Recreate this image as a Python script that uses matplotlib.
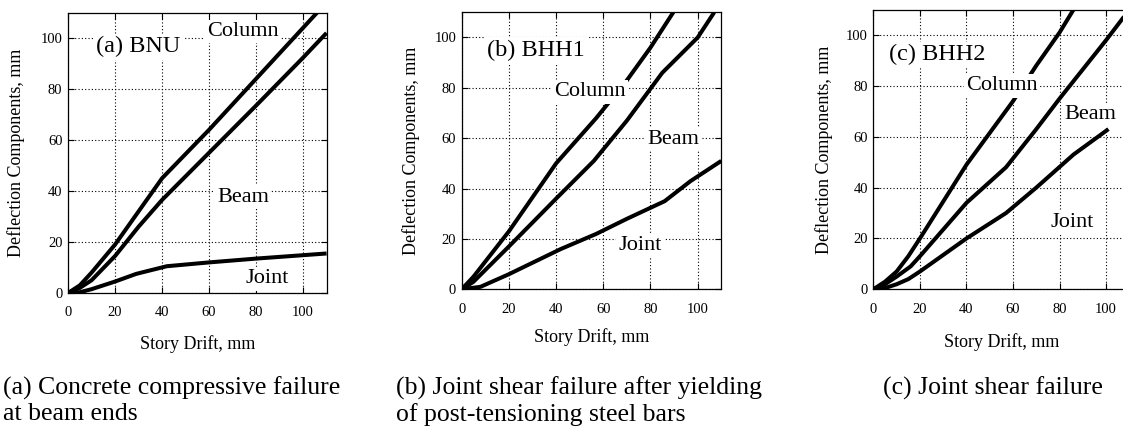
import numpy as np
from matplotlib import pyplot as plt

plt.rcParams['font.family'] = ['Liberation Serif', 'DejaVu Serif']

# (a) BNU
a_col_x = [0, 5, 10, 20, 30, 40, 60, 80, 100, 110]
a_col_y = [0, 3, 8, 19, 32, 45, 64, 84, 104, 114]
a_beam_x = [0, 5, 10, 20, 30, 40, 60, 80, 100, 110]
a_beam_y = [0, 2, 5, 14.5, 26, 36.5, 55, 73.5, 92.3, 102]
a_joint_x = [0, 5, 10, 20, 29, 42, 60, 80, 110]
a_joint_y = [0, 0.3, 1.5, 4.5, 7.5, 10.5, 12, 13.5, 15.5]

# (b) BHH1
b_col_x = [0, 5, 20, 40, 57, 70, 80, 90]
b_col_y = [0, 5, 23, 50, 68, 83, 96, 110.5]
b_beam_x = [0, 5, 20, 40, 56, 70, 85, 100, 107]
b_beam_y = [0, 3, 17, 36, 51, 67, 86, 100, 110]
b_joint_x = [0, 8, 20, 42, 57, 70, 86, 97, 110]
b_joint_y = [0, 1, 6, 16, 22, 28, 35, 43, 51]

# (c) BHH2
c_col_x = [0, 5, 10, 15, 20, 40, 60, 70, 80, 86, 88]
c_col_y = [0, 3, 7, 13, 20, 49, 74, 88, 101, 110, 111]
c_beam_x = [0, 5, 10, 16, 20, 40, 57, 70, 80, 100, 110]
c_beam_y = [0, 2, 5, 9, 13, 34, 48, 63, 75, 98, 110]
c_joint_x = [0, 5, 10, 15, 20, 40, 57, 70, 86, 101]
c_joint_y = [0, 0.5, 2, 4, 7, 20, 30, 40, 53, 63]

panels = [
    ([0.0606, 0.317, 0.2302, 0.6538], (a_col_x, a_col_y), (a_beam_x, a_beam_y), (a_joint_x, a_joint_y),
     [('(a) BNU', 12, 96.6, 17.5), ('Column', 59, 102.5, 16), ('Beam', 63.5, 37.6, 16), ('Joint', 75.3, 5.5, 16)],
     -0.166, -0.15),
    ([0.4111, 0.3256, 0.2312, 0.6457], (b_col_x, b_col_y), (b_beam_x, b_beam_y), (b_joint_x, b_joint_y),
     [('(b) BHH1', 10.9, 95, 17.5), ('Column', 39, 78.4, 16), ('Beam', 78.6, 59.5, 16), ('Joint', 66.4, 17.3, 16)],
     -0.161, -0.139),
    ([0.7777, 0.3256, 0.228, 0.652], (c_col_x, c_col_y), (c_beam_x, c_beam_y), (c_joint_x, c_joint_y),
     [('(c) BHH2', 6.9, 92.2, 17.5), ('Column', 39.8, 80, 16), ('Beam', 82.1, 68.6, 16), ('Joint', 76.2, 26.4, 16)],
     -0.159, -0.155),
]

captions = [
    (0.003, '(a) Concrete compressive failure\nat beam ends'),
    (0.3526, '(b) Joint shear failure after yielding\nof post-tensioning steel bars'),
    (0.7866, '(c) Joint shear failure'),
]

fig = plt.figure(figsize=(11.23, 4.29), dpi=100)

for pos, col, beam, joint, labels, ylx, xly in panels:
    ax = fig.add_axes(pos)
    for xs, ys in (col, beam, joint):
        ax.plot(xs, ys, color='black', lw=2.9, solid_capstyle='butt', zorder=3)
    ax.set_xlim(0, 110)
    ax.set_ylim(0, 110)
    ax.set_xticks(np.arange(0, 101, 20))
    ax.set_yticks(np.arange(0, 101, 20))
    ax.grid(True, color='black', linestyle=(0, (1, 2)), linewidth=0.8)
    ax.tick_params(direction='in', length=4, width=0.8, top=True, right=True, labelsize=10.5)
    ax.tick_params(axis='x', pad=9.5)
    ax.tick_params(axis='y', pad=4)
    for s in ax.spines.values():
        s.set_linewidth(0.9)
    ax.set_xlabel('Story Drift, mm', fontsize=13)
    ax.set_ylabel('Deflection Components, mm', fontsize=13)
    ax.yaxis.set_label_coords(ylx, 0.5)
    ax.xaxis.set_label_coords(0.5, xly)
    for txt, tx, ty, fs in labels:
        ax.text(tx, ty, txt, fontsize=fs, ha='left', va='center', zorder=5,
                bbox=dict(boxstyle='square,pad=0.1', facecolor='white', edgecolor='none'))

for cx, txt in captions:
    fig.text(cx, 0.123, txt, fontsize=18.5, ha='left', va='top', linespacing=1.17)

plt.savefig('out.png', dpi=100)
